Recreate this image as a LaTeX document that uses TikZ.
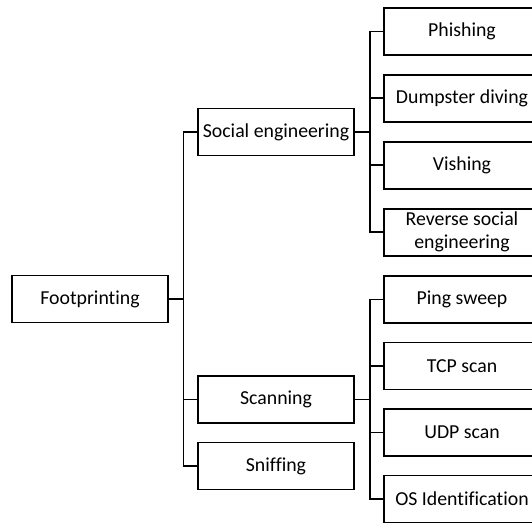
\documentclass[tikz,border=0pt]{standalone}
\usepackage{fontspec}
\setmainfont[Ligatures=CommonOff]{Carlito}
\tikzset{
box/.style={shape=rectangle, draw, line width=1.9pt, minimum width=156pt, minimum height=47pt, inner sep=2pt, align=center, font=\fontsize{19.8}{23}\selectfont},
link/.style={line width=1.9pt}}

\begin{document}
\begin{tikzpicture}[x=1pt, y=1pt]
\useasboundingbox (0,0) rectangle (532,-522);
\node [box] at (90,-299) (root) {Footprinting};
\node [box] at (276,-132) (social) {Social engineering};
\node [box] at (276,-399.5) (scan) {Scanning};
\node [box] at (276,-466) (sniff) {Sniffing};
\foreach \child in {social, scan, sniff}
  \draw [link] (root.east) -- ++(14.5,0) |- (\child.west);
\foreach \slabel [count=\j, evaluate={\sy=-31.5-66.9*(\j-1);}] in {Phishing, Dumpster diving, Vishing, {Reverse social\\engineering}}{
  \node [box] at (462,\sy) (social-\j) {\slabel};
  \draw [link] (social.east) -- ++(15,0) |- (social-\j.west);
}
\foreach \slabel [count=\j, evaluate={\sy=-299.5-66.5*(\j-1);}] in {Ping sweep, TCP scan, UDP scan, OS Identification}{
  \node [box] at (462,\sy) (scan-\j) {\slabel};
  \draw [link] (scan.east) -- ++(15,0) |- (scan-\j.west);
}
\end{tikzpicture}
\end{document}
